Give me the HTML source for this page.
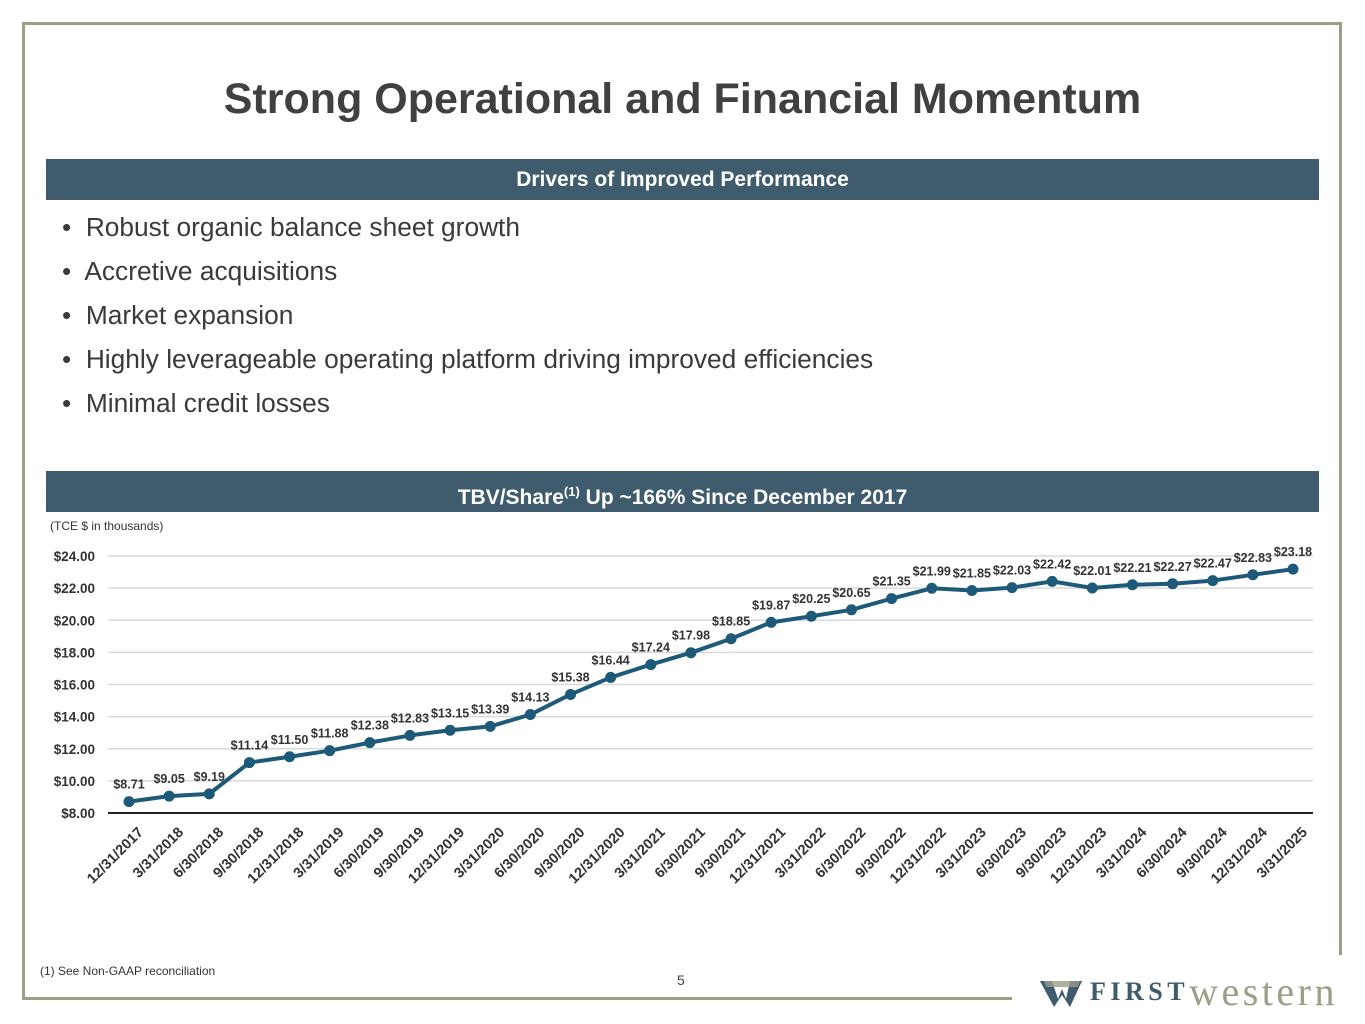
<!DOCTYPE html>
<html><head><meta charset="utf-8"><style>
body{margin:0;background:#fff;width:1365px;height:1024px;position:relative;overflow:hidden;font-family:"Liberation Sans",sans-serif}
.frame{position:absolute;border:3px solid #9c9e88}
.hdr{position:absolute;left:46px;width:1273px;height:41px;background:#3e5c6e;color:#fff;font-weight:bold;font-size:21px;text-align:center;line-height:41px}
.bul{position:absolute;left:62px;font-size:26.3px;color:#3a3a3a}
</style></head><body>
<div class="frame" style="left:22px;top:22px;width:1317px;height:0;border-width:3px 0 0 0"></div>
<div class="frame" style="left:22px;top:22px;width:0;height:978px;border-width:0 0 0 3px"></div>
<div class="frame" style="left:22px;top:997px;width:990px;height:0;border-width:3px 0 0 0"></div>
<div class="frame" style="left:1339px;top:22px;width:0;height:933px;border-width:0 0 0 3px"></div>
<div style="position:absolute;top:75px;width:1365px;text-align:center;font-size:43px;font-weight:bold;color:#404040">Strong Operational and Financial Momentum</div>
<div class="hdr" style="top:159px">Drivers of Improved Performance</div>
<div class="bul" style="top:212px">•&nbsp; Robust organic balance sheet growth</div>
<div class="bul" style="top:256px">•&nbsp; Accretive acquisitions</div>
<div class="bul" style="top:300px">•&nbsp; Market expansion</div>
<div class="bul" style="top:344px">•&nbsp; Highly leverageable operating platform driving improved efficiencies</div>
<div class="bul" style="top:388px">•&nbsp; Minimal credit losses</div>
<div class="hdr" style="top:471px">TBV/Share<sup style="font-size:13px">(1)</sup> Up ~166% Since December 2017</div>
<div style="position:absolute;left:50px;top:519px;font-size:12px;color:#333">(TCE $ in thousands)</div>
<svg id="chart" style="position:absolute;left:0;top:0" width="1365" height="1024"></svg>
<div style="position:absolute;left:40px;top:964px;font-size:12px;color:#333">(1) See Non-GAAP reconciliation</div>
<div style="position:absolute;left:677px;top:972px;font-size:14px;color:#444">5</div>
<div style="position:absolute;left:1040px;top:968px;height:40px;white-space:nowrap">
<svg width="44" height="30" style="vertical-align:middle"><path d="M0 4 L12 4 L18 22 L22 12 L26 22 L30 4 L42 4 L30 30 L22 18 L14 30 Z" fill="#3e5c6e"/><path d="M4 4 L40 4 L38 10 L6 10Z" fill="#9c9e88" opacity=".8"/></svg><span style="font-family:'Liberation Serif',serif;font-weight:bold;font-size:26px;letter-spacing:4.5px;color:#3e5c6e;vertical-align:middle;margin-left:6px">FIRST</span><span style="font-family:'Liberation Serif',serif;font-size:40px;letter-spacing:3.5px;color:#9c9e88;vertical-align:middle">western</span></div>
<script>
const dates=["12/31/2017","3/31/2018","6/30/2018","9/30/2018","12/31/2018","3/31/2019","6/30/2019","9/30/2019","12/31/2019","3/31/2020","6/30/2020","9/30/2020","12/31/2020","3/31/2021","6/30/2021","9/30/2021","12/31/2021","3/31/2022","6/30/2022","9/30/2022","12/31/2022","3/31/2023","6/30/2023","9/30/2023","12/31/2023","3/31/2024","6/30/2024","9/30/2024","12/31/2024","3/31/2025"];
const values=[8.71,9.05,9.19,11.14,11.50,11.88,12.38,12.83,13.15,13.39,14.13,15.38,16.44,17.24,17.98,18.85,19.87,20.25,20.65,21.35,21.99,21.85,22.03,22.42,22.01,22.21,22.27,22.47,22.83,23.18];
const ticks=[8,10,12,14,16,18,20,22,24];
const svg=document.getElementById('chart');const NS='http://www.w3.org/2000/svg';
const y=v=>813-(v-8)*(813-556)/16;
const x=i=>129+i*(1293-129)/(dates.length-1);
function mk(t,a,txt){const e=document.createElementNS(NS,t);for(const k in a)e.setAttribute(k,a[k]);if(txt!==undefined)e.textContent=txt;svg.appendChild(e);return e;}
ticks.forEach(t=>{
const g=mk('line',{x1:108,x2:1313,y1:y(t),y2:y(t),stroke:t===8?'#222':'#d9d9d9','stroke-width':t===8?2:1.5});


const l=mk('text',{x:95,y:y(t)+5,'text-anchor':'end','font-size':13.5,'font-weight':'bold',fill:'#333'},'$'+t.toFixed(2));


});
const line=mk('polyline',{points:values.map((v,i)=>x(i)+','+y(v)).join(' '),fill:'none',stroke:'#1d5a7a','stroke-width':4,'stroke-linejoin':'round'});


values.forEach((v,i)=>{
const c=mk('circle',{cx:x(i),cy:y(v),r:5.5,fill:'#1d5a7a'});


const t=mk('text',{x:x(i),y:y(v)-13,'text-anchor':'middle','font-size':12.5,'font-weight':'bold',fill:'#333'},'$'+v.toFixed(2));


const d=mk('text',{x:x(i)+8,y:826,'text-anchor':'end','font-size':14.5,'font-weight':'bold',fill:'#333',transform:`rotate(-45 ${x(i)+8} 826)`},dates[i]);


d.setAttribute('dy','10');
});
</script>
</body></html>
